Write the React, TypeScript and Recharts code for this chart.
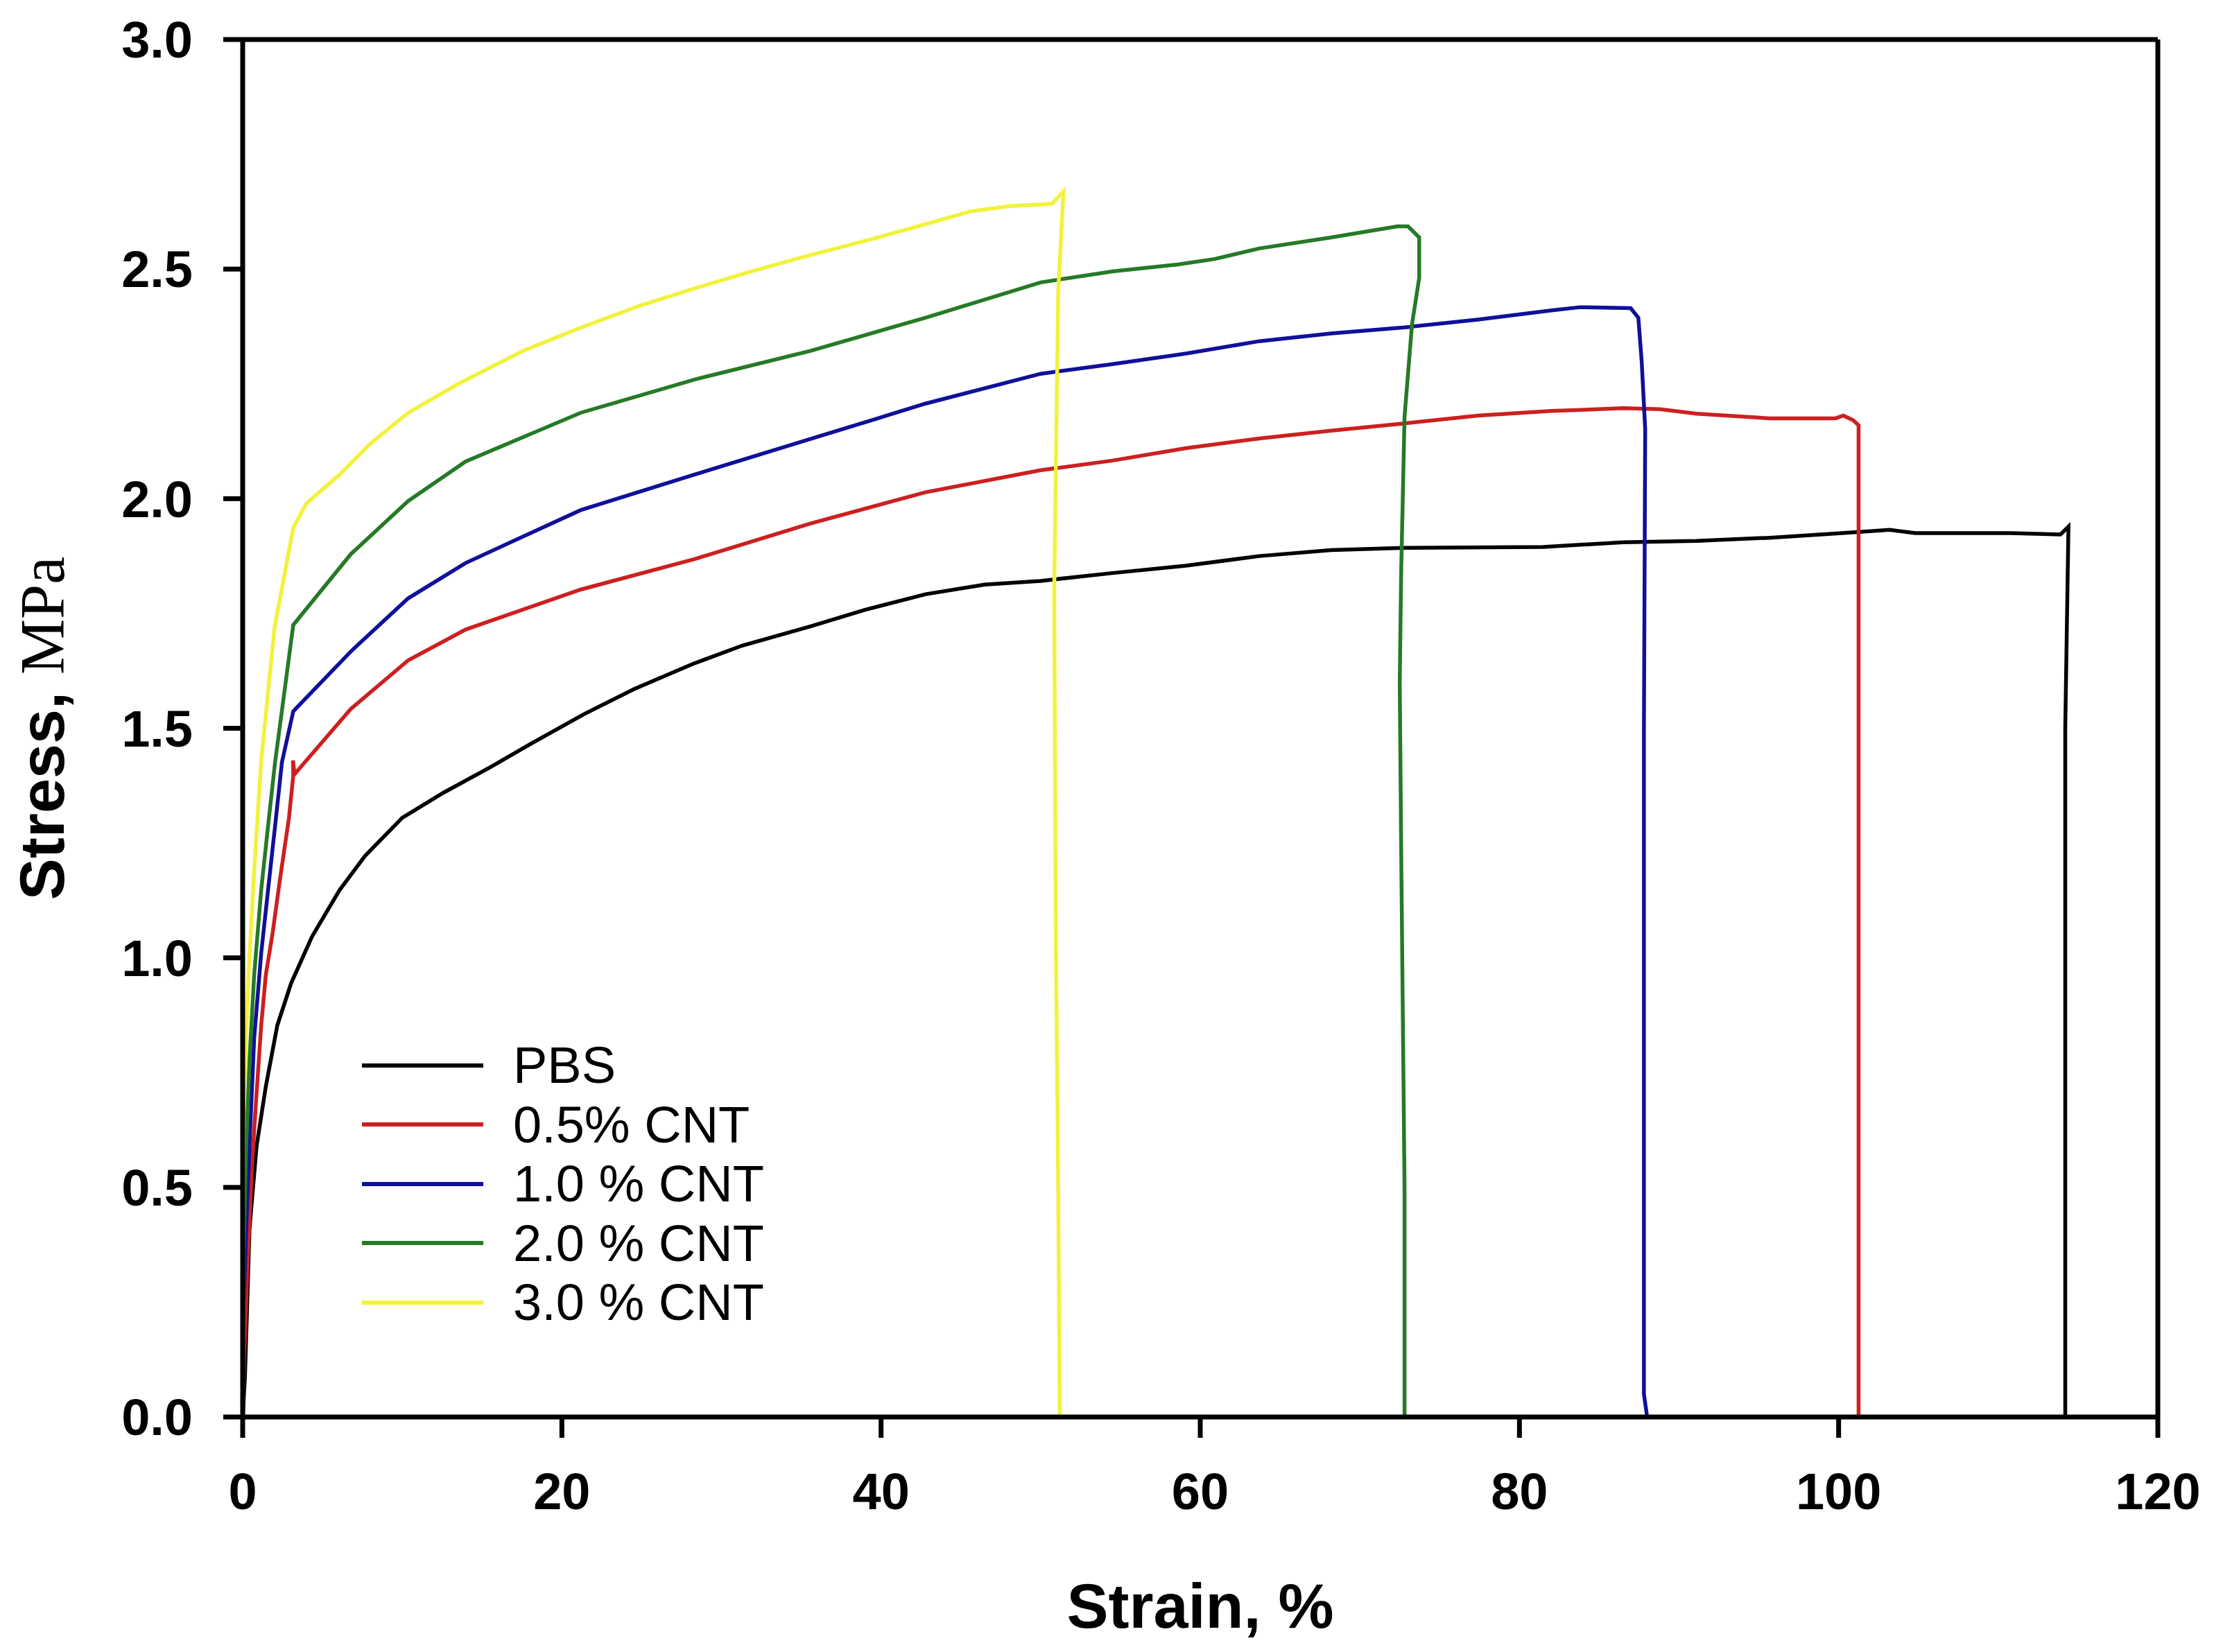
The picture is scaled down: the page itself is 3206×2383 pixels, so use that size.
import React from "react";
import {
  Legend,
  Line,
  LineChart,
  ReferenceLine,
  XAxis,
  YAxis,
} from "recharts";

// strain (%) / stress (MPa)
const pbsStrain = [0, 0.14, 0.43, 0.87, 1.45, 2.17, 3.04, 4.34, 6.08, 7.67, 10.0, 12.6, 15.5, 18.0, 21.35, 24.5, 28.2, 31.3, 35.6, 39.0, 42.8, 46.5, 50.0, 54.5, 59.1, 63.7, 68.2, 72.8, 81.5, 86.5, 91.1, 95.7, 100.2, 103.2, 104.8, 110.8, 113.9, 114.4, 114.2, 114.2];
const pbsStress = [0, 0.086, 0.41, 0.59, 0.72, 0.853, 0.945, 1.046, 1.148, 1.222, 1.305, 1.36, 1.415, 1.465, 1.53, 1.585, 1.64, 1.68, 1.722, 1.758, 1.792, 1.813, 1.821, 1.838, 1.854, 1.875, 1.888, 1.893, 1.895, 1.905, 1.908, 1.915, 1.925, 1.932, 1.925, 1.925, 1.922, 1.939, 1.5, 0];

const cnt05Strain = [0, 0.07, 0.29, 0.58, 0.87, 1.16, 1.45, 1.88, 2.32, 2.9, 3.17, 3.15, 3.25, 6.77, 10.37, 13.97, 21.17, 28.37, 35.58, 42.78, 50.0, 54.5, 59.1, 63.7, 68.2, 72.8, 77.4, 82.0, 86.5, 88.8, 91.1, 95.7, 99.8, 100.3, 100.9, 101.25, 101.25];
const cnt05Stress = [0, 0.113, 0.317, 0.548, 0.705, 0.853, 0.963, 1.055, 1.167, 1.305, 1.397, 1.43, 1.4, 1.542, 1.648, 1.715, 1.802, 1.869, 1.946, 2.014, 2.062, 2.083, 2.11, 2.131, 2.148, 2.164, 2.181, 2.191, 2.197, 2.195, 2.185, 2.175, 2.175, 2.181, 2.171, 2.16, 0];

const cnt10Strain = [0, 0, 0.22, 0.43, 0.72, 1.16, 1.59, 2.03, 2.46, 3.17, 6.77, 10.37, 13.97, 21.17, 28.37, 35.58, 42.78, 50.0, 54.5, 59.1, 63.7, 68.2, 72.8, 77.4, 82.0, 83.8, 86.97, 87.45, 87.66, 87.88, 87.8, 87.8, 88.0];
const cnt10Stress = [0, 0.18, 0.41, 0.593, 0.825, 1.01, 1.148, 1.287, 1.426, 1.537, 1.667, 1.783, 1.86, 1.975, 2.053, 2.13, 2.207, 2.272, 2.293, 2.316, 2.343, 2.36, 2.373, 2.39, 2.41, 2.417, 2.415, 2.394, 2.299, 2.151, 1.5, 0.05, 0];

const cnt20Strain = [0, 0.05, 0.22, 0.43, 0.72, 1.16, 1.59, 2.03, 3.17, 6.77, 10.37, 13.97, 21.17, 28.37, 35.58, 42.78, 50.0, 54.5, 58.6, 60.9, 63.7, 68.2, 72.35, 73.02, 73.72, 73.72, 73.27, 72.8, 72.59, 72.5, 72.6, 72.8, 72.8];
const cnt20Stress = [0, 0.35, 0.593, 0.78, 0.963, 1.148, 1.287, 1.426, 1.725, 1.879, 1.995, 2.081, 2.187, 2.26, 2.322, 2.394, 2.471, 2.495, 2.51, 2.522, 2.545, 2.569, 2.593, 2.593, 2.569, 2.481, 2.38, 2.178, 1.841, 1.6, 1.2, 0.5, 0];

const cnt30Strain = [0, 0.02, 0.07, 0.36, 0.72, 1.16, 2.0, 3.17, 4.0, 6.05, 8.0, 10.37, 13.5, 17.57, 21.0, 24.77, 28.5, 31.97, 35.5, 39.18, 42.5, 45.66, 48.0, 50.7, 51.43, 51.1, 50.85, 50.95, 51.1, 51.2];
const cnt30Stress = [0, 0.4, 0.69, 0.96, 1.19, 1.43, 1.72, 1.937, 1.99, 2.052, 2.12, 2.187, 2.25, 2.322, 2.37, 2.419, 2.46, 2.496, 2.53, 2.563, 2.595, 2.626, 2.637, 2.642, 2.669, 2.45, 1.8, 1.05, 0.5, 0];

const seriesNames = ["PBS", "0.5% CNT", "1.0 % CNT", "2.0 % CNT", "3.0 % CNT"];
const seriesColors = ["#000000", "#cc2020", "#10109a", "#267a26", "#f2f23c"];

const xTicks = [0, 20, 40, 60, 80, 100, 120];
const yTicks = [0, 0.5, 1.0, 1.5, 2.0, 2.5, 3.0];

const zip = (strain: number[], stress: number[]) =>
  strain.map((s, i) => ({ strain: s, stress: stress[i] }));

const seriesData = [
  zip(pbsStrain, pbsStress),
  zip(cnt05Strain, cnt05Stress),
  zip(cnt10Strain, cnt10Stress),
  zip(cnt20Strain, cnt20Stress),
  zip(cnt30Strain, cnt30Stress),
];

const SANS = '"Liberation Sans", Arial, Helvetica, sans-serif';
const SERIF = '"Liberation Serif", "Times New Roman", serif';

const tickStyle = {
  fill: "#000",
  fontSize: 74,
  fontWeight: 700,
  fontFamily: SANS,
};

function LegendBox() {
  return (
    <div style={{ fontFamily: SANS, fontSize: 74, color: "#000" }}>
      {seriesNames.map((name, i) => (
        <div
          key={name}
          style={{ display: "flex", alignItems: "center", height: 85.5 }}
        >
          <span
            style={{
              display: "inline-block",
              width: 175,
              height: 6,
              background: seriesColors[i],
              marginRight: 43,
            }}
          />
          <span style={{ lineHeight: "85px" }}>{name}</span>
        </div>
      ))}
    </div>
  );
}

function YTitle({ viewBox }: any) {
  const cy = viewBox ? viewBox.y + viewBox.height / 2 : 1042;
  return (
    <text
      transform={`translate(84, ${cy}) rotate(-90)`}
      textAnchor="middle"
      fill="#000"
      fontSize={90}
    >
      <tspan fontFamily={SANS} fontWeight={700}>
        Stress,{" "}
      </tspan>
      <tspan fontFamily={SERIF} fontWeight={400}>
        MPa
      </tspan>
    </text>
  );
}

function XTitle({ viewBox }: any) {
  const cx = viewBox ? viewBox.x + viewBox.width / 2 : 1723;
  return (
    <text
      x={cx}
      y={2340}
      textAnchor="middle"
      fill="#000"
      fontSize={90}
      fontFamily={SANS}
      fontWeight={700}
    >
      Strain, %
    </text>
  );
}

export default function App() {
  return (
    <LineChart
      width={3190}
      height={2375}
      margin={{ top: 49, right: 86, left: 0, bottom: 0 }}
      style={{ background: "#fff" }}
    >
      <XAxis
        type="number"
        dataKey="strain"
        domain={[0, 120]}
        ticks={xTicks}
        allowDataOverflow
        height={339}
        tickSize={30}
        tickMargin={50}
        tick={tickStyle}
        axisLine={{ stroke: "#000", strokeWidth: 7 }}
        tickLine={{ stroke: "#000", strokeWidth: 7 }}
        label={{ content: <XTitle /> }}
      />
      <YAxis
        type="number"
        domain={[0, 3]}
        ticks={yTicks}
        allowDataOverflow
        width={342}
        tickSize={28}
        tickMargin={44}
        tick={tickStyle}
        tickFormatter={(v: number) => v.toFixed(1)}
        axisLine={{ stroke: "#000", strokeWidth: 7 }}
        tickLine={{ stroke: "#000", strokeWidth: 7 }}
        label={{ content: <YTitle /> }}
      />
      <ReferenceLine y={3} stroke="#000" strokeWidth={7} />
      <ReferenceLine x={120} stroke="#000" strokeWidth={7} />
      {seriesData.map((data, i) => (
        <Line
          key={seriesNames[i]}
          data={data}
          dataKey="stress"
          name={seriesNames[i]}
          type="linear"
          stroke={seriesColors[i]}
          strokeWidth={5.5}
          dot={false}
          activeDot={false}
          isAnimationActive={false}
        />
      ))}
      <Legend
        layout="vertical"
        align="center"
        verticalAlign="middle"
        content={<LegendBox />}
        wrapperStyle={{ left: 514, top: 1486, width: "auto", height: "auto" }}
      />
    </LineChart>
  );
}
